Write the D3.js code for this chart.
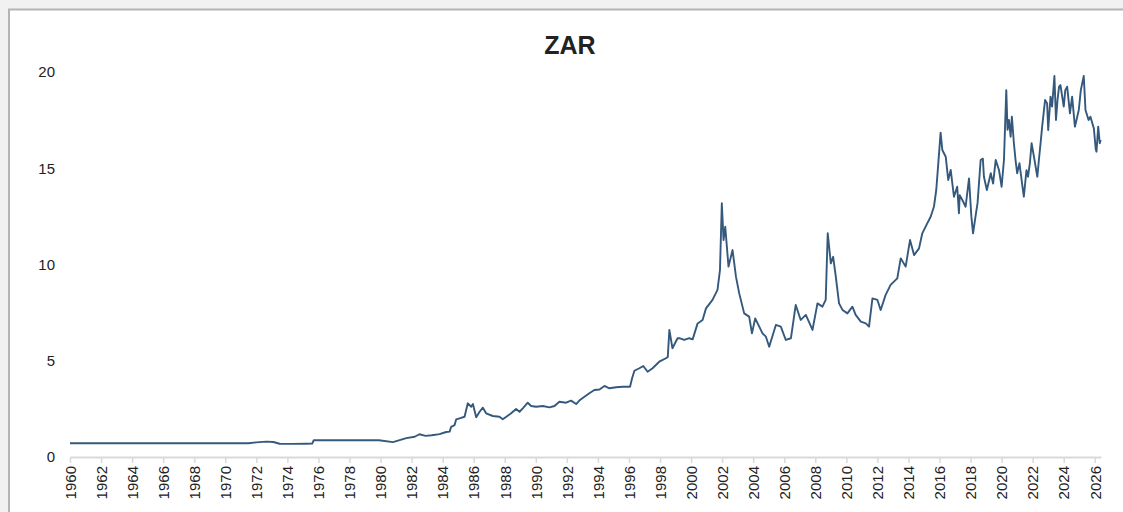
<!DOCTYPE html>
<html>
<head>
<meta charset="utf-8">
<script src="https://cdn.jsdelivr.net/npm/d3@7"></script>
<style>
  html, body { margin: 0; padding: 0; background: #f1f1f1; }
  #js_chart { width: 1123px; height: 512px; overflow: hidden; }
  text { font-family: "Liberation Sans", Arial, sans-serif; fill: #222; }
</style>
</head>
<body>
<div id="js_chart"></div>
<script>
// USD/ZAR (decimal year, rand per dollar)
const years = [
  1960, 1971.5, 1972.0, 1972.65, 1973.1, 1973.5, 1974.3, 1975.2, 1975.6, 1975.7, 1979.9, 1980.8, 1981.66, 1982.2, 1982.5, 1982.9, 1983.3, 1983.8,
  1984.23, 1984.45, 1984.55, 1984.77, 1984.87, 1985.09, 1985.41, 1985.62, 1985.84, 1985.95, 1986.16, 1986.38, 1986.59, 1986.8,
  1987.23, 1987.66, 1987.87, 1988.1, 1988.41, 1988.73, 1988.95, 1989.16, 1989.48, 1989.7, 1990.02, 1990.45, 1990.88,
  1991.2, 1991.52, 1991.95, 1992.27, 1992.6, 1992.8, 1993.13, 1993.45, 1993.77, 1994.1, 1994.42, 1994.74, 1995.17, 1995.6,
  1996.07, 1996.2, 1996.35, 1996.67, 1996.92, 1997.2, 1997.52, 1997.95, 1998.38, 1998.5, 1998.6, 1998.8, 1999.13, 1999.24, 1999.56, 1999.88,
  2000.1, 2000.42, 2000.74, 2000.96, 2001.38, 2001.7, 2001.86, 2001.98, 2002.09, 2002.2, 2002.41, 2002.67, 2002.89,
  2003.1, 2003.42, 2003.74, 2003.92, 2004.13, 2004.39, 2004.6, 2004.82, 2005.03, 2005.46, 2005.78, 2006.1, 2006.43, 2006.74,
  2007.06, 2007.39, 2007.82, 2008.14, 2008.46, 2008.67, 2008.8, 2009.0, 2009.15, 2009.32, 2009.53, 2009.75, 2010.07, 2010.39, 2010.6,
  2010.93, 2011.25, 2011.46, 2011.68, 2012.0, 2012.21, 2012.53, 2012.85, 2013.28, 2013.5, 2013.82, 2014.1, 2014.36, 2014.68, 2014.89,
  2015.21, 2015.43, 2015.64, 2015.79, 2015.97, 2016.07, 2016.18, 2016.4, 2016.56, 2016.72, 2016.93, 2017.14, 2017.25, 2017.3, 2017.47, 2017.68,
  2017.9, 2018.05, 2018.16, 2018.3, 2018.45, 2018.65, 2018.79, 2018.86, 2019.05, 2019.3, 2019.45, 2019.62, 2019.83, 2020.0, 2020.15,
  2020.3, 2020.38, 2020.47, 2020.58, 2020.66, 2020.79, 2020.9, 2021.0, 2021.15, 2021.3, 2021.43, 2021.6, 2021.7, 2021.82, 2021.93,
  2022.08, 2022.3, 2022.4, 2022.52, 2022.61, 2022.8, 2022.93, 2023.0, 2023.15, 2023.25, 2023.4, 2023.5, 2023.6, 2023.7, 2023.79,
  2024.0, 2024.1, 2024.22, 2024.4, 2024.54, 2024.72, 2024.97, 2025.1, 2025.29, 2025.4, 2025.6, 2025.72, 2025.94, 2026.06, 2026.11,
  2026.22, 2026.32, 2026.38
];
const rates = [
  0.714, 0.714, 0.76, 0.80, 0.78, 0.69, 0.68, 0.69, 0.70, 0.87, 0.87, 0.77, 0.98, 1.05, 1.18, 1.10, 1.13, 1.19,
  1.30, 1.32, 1.57, 1.66, 1.95, 2.01, 2.09, 2.79, 2.61, 2.75, 2.06, 2.35, 2.56, 2.27,
  2.13, 2.09, 1.96, 2.09, 2.27, 2.49, 2.35, 2.53, 2.82, 2.65, 2.61, 2.65, 2.58,
  2.65, 2.87, 2.82, 2.93, 2.75, 2.93, 3.13, 3.31, 3.48, 3.51, 3.69, 3.57, 3.62, 3.65,
  3.65, 4.09, 4.48, 4.61, 4.73, 4.43, 4.61, 4.95, 5.13, 5.2, 6.6, 5.65, 6.17, 6.17, 6.08, 6.17,
  6.11, 6.94, 7.12, 7.72, 8.16, 8.68, 9.71, 13.18, 11.27, 11.96, 9.89, 10.75, 9.37,
  8.5, 7.46, 7.29, 6.42, 7.2, 6.77, 6.42, 6.25, 5.73, 6.86, 6.77, 6.08, 6.17, 7.9,
  7.12, 7.38, 6.6, 7.98, 7.81, 8.16, 11.62, 10.06, 10.4, 9.37, 7.98, 7.64, 7.46, 7.81, 7.38,
  7.03, 6.94, 6.77, 8.24, 8.16, 7.64, 8.42, 8.94, 9.28, 10.32, 9.89, 11.27, 10.49, 10.84, 11.62,
  12.14, 12.48, 13.0, 13.87, 15.77, 16.85, 15.95, 15.6, 14.39, 14.91, 13.52, 14.04, 12.66, 13.6, 13.35, 13.0,
  14.47, 12.5, 11.62, 12.4, 13.2, 15.43, 15.5, 14.56, 13.87, 14.74, 14.2, 15.43, 14.91, 14.04, 15.43,
  19.06, 17.0, 17.51, 16.64, 17.68, 16.3, 15.4, 14.74, 15.26, 14.3, 13.52, 14.9, 14.56, 15.26, 16.3,
  15.6, 14.56, 15.43, 16.4, 17.16, 18.55, 18.37, 16.99, 18.72, 18.2, 19.79, 17.51, 18.55, 19.24, 19.32,
  18.2, 19.06, 19.24, 17.85, 18.72, 17.16, 18.03, 19.06, 19.79, 18.03, 17.51, 17.68, 17.07, 16.0, 15.86,
  17.16, 16.3, 16.47
];
const yTicks = [0, 5, 10, 15, 20];
const xTicks = d3.range(1960, 2027, 2);
const title = "ZAR";

const W = 1123, H = 512;
const margin = {left: 70, right: 22, top: 72, bottom: 55};

const svg = d3.select("#js_chart").append("svg")
    .attr("width", W).attr("height", H);

// white panel with grey border
svg.append("rect")
    .attr("x", 9).attr("y", 9.5)
    .attr("width", W + 20).attr("height", H + 20)
    .attr("fill", "#fff").attr("stroke", "#b4b4b4").attr("stroke-width", 2);

let x = d3.scaleLinear()
    .domain([1960, 2026.4])
    .range([margin.left, W - margin.right]);

let y = d3.scaleLinear()
    .domain([0, 20])
    .range([H - margin.bottom, margin.top]);

svg.append("text")
    .attr("x", 570).attr("y", 54)
    .attr("text-anchor", "middle")
    .style("font-size", "25px").style("font-weight", "bold")
    .text(title);

// y labels only
svg.append("g").selectAll("text").data(yTicks).enter().append("text")
    .attr("x", 55).attr("y", function(d) { return y(d); })
    .attr("dy", "0.35em")
    .attr("text-anchor", "end")
    .style("font-size", "15px")
    .text(function(d) { return d; });

// x axis
let xAxis = svg.append("g")
    .attr("transform", "translate(0," + y(0) + ")")
    .call(d3.axisBottom(x).tickValues(xTicks).tickFormat(d3.format("d")).tickSize(6).tickSizeOuter(0));

xAxis.select(".domain").attr("stroke", "#d9d9d9").attr("stroke-width", 2);
xAxis.selectAll(".tick line").attr("stroke", "#d9d9d9").attr("stroke-width", 1.5);
xAxis.selectAll(".tick text")
    .attr("transform", "rotate(-90)")
    .attr("x", -9).attr("y", 0).attr("dy", "0.35em")
    .attr("text-anchor", "end")
    .style("font-size", "15px")
    .style("font-family", "Liberation Sans, Arial, sans-serif")
    .attr("fill", "#222");

let line = d3.line()
    .x(function(d, i) { return x(years[i]); })
    .y(function(d) { return y(d); });

svg.append("path")
    .datum(rates)
    .attr("d", line)
    .attr("fill", "none")
    .attr("stroke", "#34597d")
    .attr("stroke-width", 1.9)
    .attr("stroke-linejoin", "round");
</script>
</body>
</html>
